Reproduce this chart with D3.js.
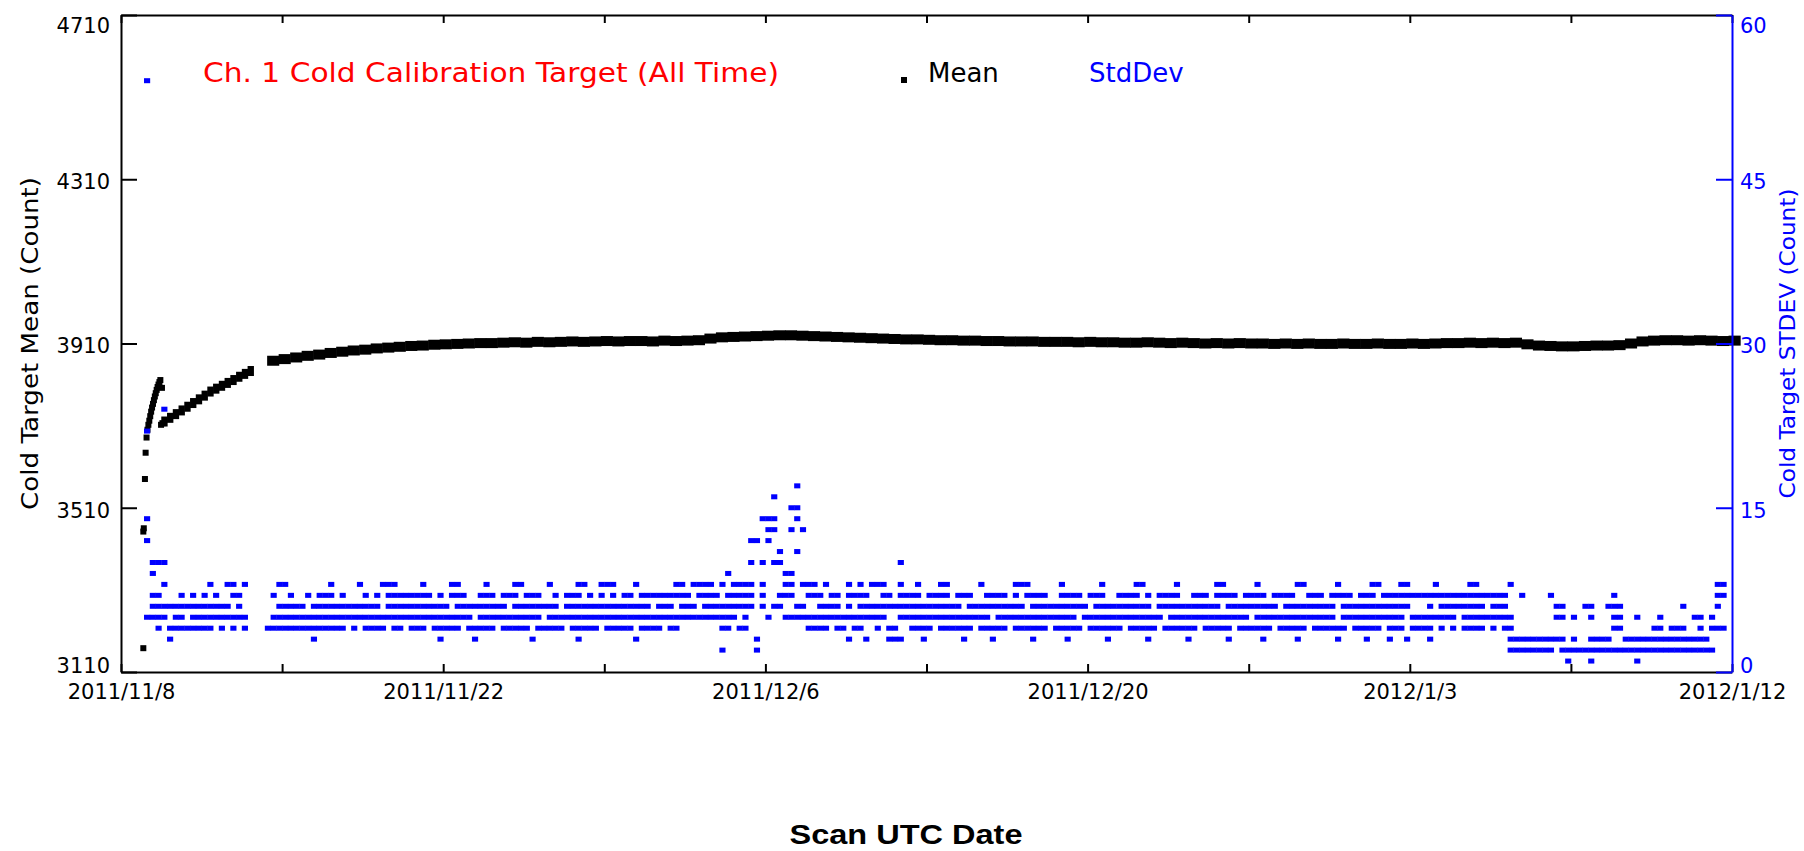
<!DOCTYPE html>
<html>
<head>
<meta charset="utf-8">
<script src="https://cdn.jsdelivr.net/npm/d3@7"></script>
<style>
  html, body { margin: 0; padding: 0; background: #ffffff; }
  svg { display: block; }
</style>
</head>
<body>
<svg id="chart" width="1804" height="851"></svg>
<script>
// ---- axis ticks and labels ----
const tickDates = ["2011-11-08","2011-11-15","2011-11-22","2011-11-29","2011-12-06","2011-12-13",
                   "2011-12-20","2011-12-27","2012-01-03","2012-01-10","2012-01-17"];
const tickLabels = ["2011/11/8","","2011/11/22","","2011/12/6","","2011/12/20","","2012/1/3","","2012/1/12"];
const meanTicks = [3110, 3510, 3910, 4310, 4710];
const stdTicks = [0, 15, 30, 45, 60];

// ---- cold target mean: first samples after switch-on (day offset from 2011-11-08, count) ----
const meanEarlyDay = [0.97, 0.97, 0.99, 1.04, 1.07, 1.11, 1.15, 1.19, 1.23, 1.27, 1.31, 1.35, 1.39, 1.43,
                      1.47, 1.51, 1.55, 1.59, 1.63, 1.67, 1.71, 1.78, 1.74, 1.80];
const meanEarlyVal = [3168, 3452, 3460, 3580, 3644, 3681, 3700, 3712, 3722, 3733, 3744, 3754, 3763, 3772,
                      3781, 3789, 3797, 3804, 3810, 3816, 3821, 3802, 3712, 3716];

// ---- cold target mean during warm-up: quarter-day bins from day 1.75 ----
const meanWarmStart = 1.75;
const meanWarmWidth = 0.25;
const meanWarmVal = [3720, 3729, 3738, 3747, 3756, 3765, 3774, 3783, 3793, 3800,
                     3807, 3814, 3821, 3829, 3836, 3843];

// ---- cold target mean after the data gap: half-day bins from day 6.35 ----
const meanBinStart = 6.35;
const meanBinWidth = 0.5;
const meanBinVal = [
  3868, 3872, 3876, 3880, 3883, 3887, 3890, 3893, 3895, 3898,
  3900, 3902, 3904, 3905, 3907, 3908, 3909, 3910, 3911, 3911,
  3912, 3913, 3912, 3914, 3913, 3914, 3915, 3914, 3915, 3916,
  3915, 3916, 3916, 3915, 3917, 3916, 3917, 3918, 3922, 3925,
  3926, 3927, 3928, 3929, 3930, 3930, 3929, 3928, 3927, 3926,
  3925, 3924, 3923, 3922, 3921, 3920, 3920, 3919, 3918, 3918,
  3917, 3917, 3916, 3916, 3915, 3915, 3915, 3914, 3914, 3914,
  3913, 3914, 3913, 3913, 3912, 3912, 3913, 3912, 3911, 3912,
  3911, 3910, 3911, 3910, 3911, 3910, 3910, 3909, 3910, 3909,
  3910, 3909, 3909, 3910, 3909, 3909, 3910, 3909, 3909, 3910,
  3909, 3910, 3911, 3911, 3912, 3911, 3912, 3911, 3912, 3908,
  3905, 3904, 3903, 3903, 3904, 3905, 3905, 3906, 3910, 3915,
  3917, 3918, 3918, 3917, 3918, 3917, 3916, 3917
];

// ---- cold target standard deviation: quarter-day bins holding samples at each count level ----
const stdBinWidth = 0.25;
const stdRuns = [
  [1,  "251 255 263"],
  [2,  "104 110 241-248 250-276"],
  [3,  "8 33 55 61 71 79 89 110 126 129 133-135 139 146 151 158 164 171 178 185 192 198 204 211 216 220 223 227 241-250 252 255-258 261-275"],
  [4,  "6 8-15 17 19 21 25-37 38 40 42-45 47-48 50-52 54-58 60-64 66-70 72-76 78-82 84-88 90-93 95 96 104 105 107-108 119-122 124-125 127-128 131 133-134 137-140 142-147 149-153 155-160 162-166 168-173 175-179 181-186 188-192 194-199 201-205 207-212 214-218 220-222 224-227 229 231 233-236 238 240-241 259-260 266-267 269-271 274 276-278"],
  [5,  "4-7 9-10 12-21 26-60 62-72 74-93 94-106 108 112 115-132 135-150 152-165 167-180 182-195 197-210 212-222 224-231 233-241 249-250 252 255 259-260 263 267 273-274 276"],
  [6,  "5-18 20 27-31 33-34 35-44 46-56 58-66 68-75 77-91 93-95 97-99 101-109 111 113-114 117-118 121-124 126 128-145 147-156 158-167 169-178 180-190 192-200 202-210 212-223 227 229-236 238-240 249-250 254-255 258-260 271 277"],
  [7,  "5 6 10 12 14 16 19-20 26 29 32 34-36 38 42 44 46-53 55 57-59 62-64 66-68 70-72 75 77-79 81 83 85 87-88 90-98 100-103 105-109 111 114-116 119-121 123-124 126-129 132-133 135-138 140-143 145-147 150-153 155 157-160 163-166 168-170 173-176 178 180-183 186-188 190-193 195-198 200-203 206-208 210-213 215-217 219-240 243 248 259 277-278"],
  [8,  "7 15 18-19 21 27-28 36 41 45-47 52 57-58 63 68-69 74 79-80 83-85 89 96-97 99-102 104 106-109 111 115-116 118-120 122 126 128 130-132 135 138 142-143 149 155-157 163 170 176-177 183 190-191 197 204-205 211 217-218 222-223 228 234-235 241 277-278"],
  [9,  "5 105 115-116"],
  [10, "5-7 109 111 113-114 135"],
  [11, "114 117"],
  [12, "4 109-110 112"],
  [13, "112-113 116 118"],
  [14, "4 111-113 117"],
  [15, "116-117"],
  [16, "113"],
  [17, "117"],
  [22, "4"],
  [24, "7"],
  [54, "4"]
];

// ---- layout ----
const plot = { left: 121, right: 1732, top: 15, bottom: 672 };
const BLUE = "#0000ff", RED = "#ff0000", BLACK = "#000000";
const FONT = "'DejaVu Sans', 'Liberation Sans', sans-serif";

const svg = d3.select("#chart");
const day0 = Date.UTC(2011, 10, 8);
const dayToDate = d => new Date(day0 + d * 864e5);

const tickDateObjs = tickDates.map(s => new Date(s + "T00:00:00Z"));
const x = d3.scaleUtc()
  .domain([tickDateObjs[0], tickDateObjs[tickDateObjs.length - 1]])
  .range([plot.left, plot.right]);
const yMean = d3.scaleLinear().domain([3110, 4710]).range([plot.bottom, plot.top]);
const yStd = d3.scaleLinear().domain([0, 60]).range([plot.bottom, plot.top]);

function styleAxis(g, color) {
  g.attr("color", color)
   .attr("font-family", FONT)
   .attr("font-size", 21);
  g.select(".domain").attr("stroke-width", 2);
  g.selectAll(".tick line").attr("stroke-width", 2);
}

// top axis (ticks only)
const gTop = svg.append("g").attr("transform", `translate(0,${plot.top})`)
  .call(d3.axisTop(x).tickValues(tickDateObjs).tickSize(-8).tickSizeOuter(0).tickFormat(""));
styleAxis(gTop, BLACK);

// bottom date axis
const gBottom = svg.append("g").attr("transform", `translate(0,${plot.bottom})`)
  .call(d3.axisBottom(x).tickValues(tickDateObjs).tickSize(-8).tickSizeOuter(0)
    .tickPadding(12).tickFormat((d, i) => tickLabels[i]));
styleAxis(gBottom, BLACK);

// left axis: mean counts
const gLeft = svg.append("g").attr("transform", `translate(${plot.left},0)`)
  .call(d3.axisLeft(yMean).tickValues(meanTicks).tickSize(-16).tickSizeOuter(0).tickPadding(11).tickFormat(d3.format("d")));
styleAxis(gLeft, BLACK);

// vertical placement of end labels kept inside the frame
function placeYLabels(g, lo, hi) {
  g.selectAll(".tick text").attr("dy", d => d === hi ? "0.84em" : (d === lo ? "0.02em" : "0.45em"));
}
placeYLabels(gLeft, 3110, 4710);

// ---- mean series ----
const gMean = svg.append("g").attr("fill", BLACK);
const bandHalf = 5;
function binsFrom(vals, start, width) {
  return vals.map((v, i) => ({ d0: start + i * width, d1: start + (i + 1) * width, v }))
             .filter(b => b.v !== null);
}
const meanBins = binsFrom(meanWarmVal, meanWarmStart, meanWarmWidth)
  .concat(binsFrom(meanBinVal, meanBinStart, meanBinWidth));
gMean.selectAll("rect.band").data(meanBins).join("rect")
  .attr("class", "band")
  .attr("x", b => x(dayToDate(b.d0)))
  .attr("width", b => x(dayToDate(b.d1)) - x(dayToDate(b.d0)) + 0.6)
  .attr("y", b => yMean(b.v) - bandHalf)
  .attr("height", bandHalf * 2);

const meanEarly = meanEarlyDay.map((d, i) => ({ d, v: meanEarlyVal[i] }));
gMean.selectAll("rect.pt").data(meanEarly).join("rect")
  .attr("class", "pt")
  .attr("x", p => x(dayToDate(p.d)) - 3)
  .attr("y", p => yMean(p.v) - 3)
  .attr("width", 6).attr("height", 6);

// ---- standard deviation series ----
const stdPts = [];
stdRuns.forEach(([level, runs]) => {
  runs.trim().split(/\s+/).forEach(tok => {
    const [a, b] = tok.split("-").map(Number);
    const end = (b === undefined) ? a : b;
    for (let i = a; i <= end; i++) stdPts.push({ level, bin: i });
  });
});
const gStd = svg.append("g").attr("fill", BLUE);
gStd.selectAll("rect").data(stdPts).join("rect")
  .attr("x", p => x(dayToDate(p.bin * stdBinWidth)))
  .attr("width", p => x(dayToDate((p.bin + 1) * stdBinWidth)) - x(dayToDate(p.bin * stdBinWidth)) + 0.4)
  .attr("y", p => yStd(p.level) - 2.5)
  .attr("height", 5);

// right axis: standard deviation counts (drawn last so its ticks sit over the frame corners)
const gRight = svg.append("g").attr("transform", `translate(${plot.right},0)`)
  .call(d3.axisRight(yStd).tickValues(stdTicks).tickSize(-16).tickSizeOuter(0).tickPadding(8));
styleAxis(gRight, BLUE);
placeYLabels(gRight, 0, 60);

// ---- axis titles ----
svg.append("text")
  .attr("transform", `translate(38,${(plot.top + plot.bottom) / 2}) rotate(-90)`)
  .attr("text-anchor", "middle")
  .attr("font-family", FONT).attr("font-size", 23)
  .attr("textLength", 333).attr("lengthAdjust", "spacingAndGlyphs")
  .attr("fill", BLACK)
  .text("Cold Target Mean (Count)");

svg.append("text")
  .attr("transform", `translate(1795,${(plot.top + plot.bottom) / 2}) rotate(-90)`)
  .attr("text-anchor", "middle")
  .attr("font-family", FONT).attr("font-size", 21)
  .attr("textLength", 310).attr("lengthAdjust", "spacingAndGlyphs")
  .attr("fill", BLUE)
  .text("Cold Target STDEV (Count)");

svg.append("text")
  .attr("x", 906).attr("y", 844)
  .attr("text-anchor", "middle")
  .attr("font-family", "'Liberation Sans', Arial, sans-serif")
  .attr("font-weight", "bold").attr("font-size", 27)
  .attr("textLength", 233).attr("lengthAdjust", "spacingAndGlyphs")
  .attr("fill", BLACK)
  .text("Scan UTC Date");

// ---- plot title and legend ----
svg.append("text")
  .attr("x", 203).attr("y", 82)
  .attr("font-family", FONT).attr("font-size", 26)
  .attr("textLength", 576).attr("lengthAdjust", "spacingAndGlyphs")
  .attr("fill", RED)
  .text("Ch. 1 Cold Calibration Target (All Time)");

svg.append("rect").attr("x", 901).attr("y", 77).attr("width", 6).attr("height", 6).attr("fill", BLACK);
svg.append("text")
  .attr("x", 928).attr("y", 82)
  .attr("font-family", FONT).attr("font-size", 26)
  .attr("fill", BLACK)
  .text("Mean");
svg.append("text")
  .attr("x", 1089).attr("y", 82)
  .attr("font-family", FONT).attr("font-size", 26)
  .attr("fill", BLUE)
  .text("StdDev");
</script>
</body>
</html>
